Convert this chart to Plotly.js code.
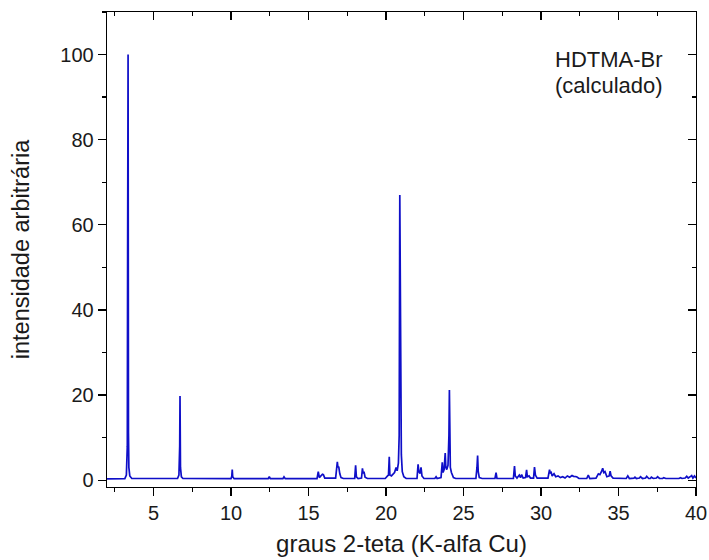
<!DOCTYPE html>
<html>
<head>
<meta charset="utf-8">
<script src="https://cdn.plot.ly/plotly-3.0.1.min.js"></script>
<style>
html,body{margin:0;padding:0;background:#fff;}
#chart{width:709px;height:560px;}
</style>
</head>
<body>
<div id="chart"></div>
<script>
const twoTheta = [
2.0,3.15,3.25,3.31,3.33,3.36,3.385,3.41,3.47,3.6,
6.55,6.64,6.69,6.71,6.74,6.8,6.9,
10.0,10.05,10.08,10.11,10.2,
12.4,12.47,12.54,13.35,13.42,13.5,
15.55,15.63,15.7,15.8,15.9,15.96,16.05,
16.75,16.83,16.86,16.9,16.95,17.02,17.1,17.25,
17.98,18.04,18.09,18.2,18.42,18.48,18.53,18.58,18.65,18.8,
19.95,20.1,20.16,20.21,20.25,20.35,20.45,20.55,20.65,20.72,20.8,20.85,20.89,20.92,20.95,20.99,21.05,21.15,21.3,
22.0,22.07,22.12,22.2,22.26,22.32,22.45,
23.15,23.23,23.3,23.55,23.63,23.68,23.75,23.82,23.86,23.92,24.0,24.06,24.09,24.12,24.15,24.22,24.35,24.5,
25.8,25.87,25.91,25.95,26.02,26.2,
27.03,27.1,27.16,
28.22,28.29,28.34,28.45,28.6,28.68,28.75,28.85,29.0,29.07,29.12,29.23,29.32,29.52,29.58,29.64,29.75,
30.45,30.55,30.6,30.66,30.72,30.84,30.95,31.1,31.25,31.4,31.55,31.7,31.85,32.0,32.1,32.3,32.45,
32.95,33.05,33.15,33.55,33.7,33.8,33.9,33.98,34.05,34.13,34.25,34.4,34.46,34.52,34.65,
35.5,35.6,35.7,36.0,36.06,36.15,36.35,36.42,36.55,36.75,36.82,36.95,37.05,37.12,37.25,37.45,37.52,37.65,37.85,37.92,38.05,
38.9,39.0,39.1,39.3,39.4,39.5,39.65,39.72,39.8,39.9,40.0
];
const intensity = [
0.3,0.35,1.2,8,53,100,11,3,1.0,0.4,
0.4,1.2,8,19.8,3,0.8,0.4,
0.35,0.9,2.5,0.8,0.35,
0.35,0.8,0.35,0.35,0.8,0.35,
0.35,2.0,0.6,0.9,1.4,1.3,0.5,
0.5,2.5,4.3,3.0,3.2,1.5,0.6,0.4,
0.4,3.5,0.8,0.4,0.5,2.8,1.6,2.0,0.7,0.4,
0.4,1.0,1.2,5.5,1.2,1.0,1.4,1.8,3.0,2.2,4.0,10.5,67,51,28,6,2,0.8,0.4,
0.4,3.7,2.0,1.6,3.0,1.0,0.4,
0.4,0.8,0.4,0.6,4.2,1.8,2.5,6.4,3.0,2.5,3.5,10.5,21.2,10.6,3.0,1.8,0.6,0.4,
0.4,3.0,5.8,2.0,0.6,0.4,
0.4,1.8,0.4,
0.4,3.3,1.0,0.5,1.2,0.6,1.3,0.5,0.6,2.4,0.8,1.0,0.5,0.5,3.1,1.2,0.5,
0.5,2.5,1.6,1.8,1.0,1.5,0.8,1.0,0.6,0.8,0.5,1.0,0.7,1.1,0.9,0.8,0.4,
0.4,1.2,0.4,0.5,1.5,1.3,2.0,2.8,1.8,2.0,0.8,1.0,2.1,1.0,0.5,
0.4,1.0,0.4,0.5,0.7,0.4,0.5,0.8,0.4,0.5,0.9,0.4,0.4,0.7,0.4,0.5,0.8,0.4,0.4,0.6,0.4,
0.4,0.6,0.4,0.5,0.9,0.5,0.9,1.1,0.5,1.0,0.5
];
const xTickVals = [5,10,15,20,25,30,35,40];
const xTickText = ['5','10','15','20','25','30','35','40'];
const yTickVals = [0,20,40,60,80,100];
const yTickText = ['0','20','40','60','80','100'];
const xRange = [2,40];
const yRange = [-1.6,110];

const FONT = 'Liberation Sans, Arial, sans-serif';
const traces = [
  {x: twoTheta, y: intensity, type:'scatter', mode:'lines',
   line:{color:'rgb(15,15,200)', width:1.7}, hoverinfo:'skip', showlegend:false},
  {x: [], y: [], xaxis:'x2', yaxis:'y2', type:'scatter', mode:'lines', showlegend:false, hoverinfo:'skip'}
];
const axCommon = {showgrid:false, zeroline:false, showline:true, linecolor:'#000', linewidth:1.3,
  tickcolor:'#000', tickwidth:1.3, ticklen:8};
const layout = {
  width:709, height:560,
  margin:{l:107, r:13, t:12, b:73},
  paper_bgcolor:'#fff', plot_bgcolor:'#fff',
  font:{family:FONT, color:'#1a1a1a'},
  showlegend:false,
  xaxis: Object.assign({}, axCommon, {
    range:xRange, tickmode:'array', tickvals:xTickVals, ticktext:xTickText,
    ticks:'outside', tickfont:{size:20, family:FONT, color:'#1a1a1a'},
    minor:{dtick:2.5, tick0:0, ticks:'outside', ticklen:4, tickcolor:'#000', tickwidth:1.3, showgrid:false},
    title:{text:'graus 2-teta (K-alfa Cu)', font:{size:24, family:FONT, color:'#1a1a1a'}, standoff:12}
  }),
  yaxis: Object.assign({}, axCommon, {
    range:yRange, tickmode:'array', tickvals:yTickVals, ticktext:yTickText,
    ticks:'outside', tickfont:{size:20, family:FONT, color:'#1a1a1a'},
    minor:{dtick:10, tick0:0, ticks:'outside', ticklen:4, tickcolor:'#000', tickwidth:1.3, showgrid:false},
    title:{text:'intensidade arbitrária', font:{size:23.5, family:FONT, color:'#1a1a1a'}, standoff:24}
  }),
  xaxis2: Object.assign({}, axCommon, {
    overlaying:'x', side:'top', anchor:'y2', range:xRange, tickmode:'array', tickvals:xTickVals,
    ticks:'inside', showticklabels:false,
    minor:{dtick:2.5, tick0:0, ticks:'inside', ticklen:4, tickcolor:'#000', tickwidth:1.3, showgrid:false}
  }),
  yaxis2: Object.assign({}, axCommon, {
    overlaying:'y', side:'right', anchor:'x2', range:yRange, tickmode:'array', tickvals:yTickVals,
    ticks:'inside', showticklabels:false,
    minor:{dtick:10, tick0:0, ticks:'inside', ticklen:4, tickcolor:'#000', tickwidth:1.3, showgrid:false}
  }),
  annotations:[
    {text:'HDTMA-Br', xref:'paper', yref:'paper', x:0.852, y:0.899, xanchor:'center', yanchor:'middle',
     showarrow:false, font:{size:22, family:FONT, color:'#1a1a1a'}},
    {text:'(calculado)', xref:'paper', yref:'paper', x:0.852, y:0.846, xanchor:'center', yanchor:'middle',
     showarrow:false, font:{size:22, family:FONT, color:'#1a1a1a'}}
  ]
};
Plotly.newPlot('chart', traces, layout, {displayModeBar:false, staticPlot:true});
</script>
</body>
</html>
